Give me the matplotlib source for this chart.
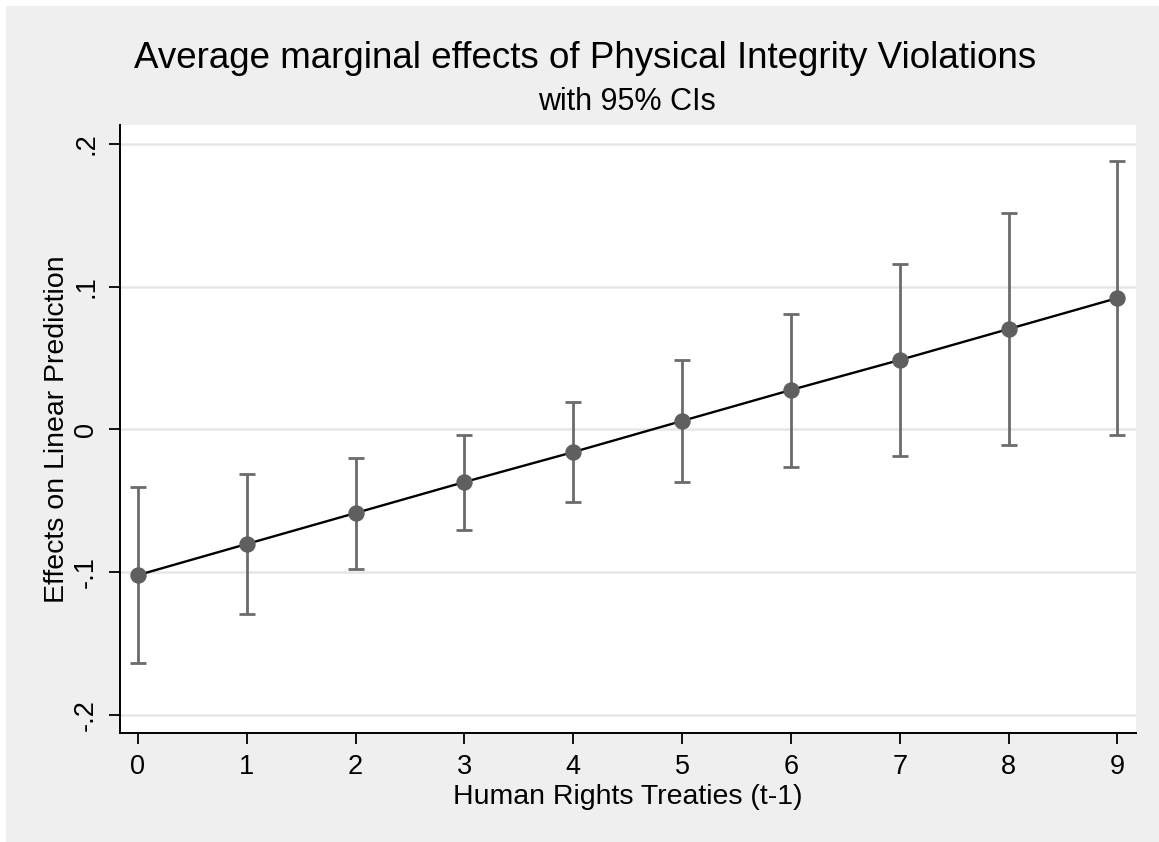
import numpy as np
import matplotlib
matplotlib.use("Agg")
import matplotlib.pyplot as plt

# values
treaties = [0, 1, 2, 3, 4, 5, 6, 7, 8, 9]
margins = [-0.102, -0.0802, -0.0585, -0.0368, -0.0158, 0.0060, 0.0277, 0.0487, 0.0704, 0.0921]
ci_low = [-0.1636, -0.1290, -0.0977, -0.0704, -0.0508, -0.0368, -0.0263, -0.0186, -0.0109, -0.0039]
ci_high = [-0.0403, -0.0312, -0.0200, -0.0039, 0.0193, 0.0487, 0.0809, 0.1159, 0.1516, 0.1880]
yticks = [-0.2, -0.1, 0.0, 0.1, 0.2]
ytick_labels = ["-.2", "-.1", "0", ".1", ".2"]

plt.rcParams['font.family'] = ['Liberation Sans', 'DejaVu Sans']

W, H = 1159, 842
fig = plt.figure(figsize=(W / 100, H / 100), dpi=100, facecolor='white')
# light gray outer region, thin white margin top and left
fig.patches.append(plt.Rectangle((6 / W, 0), 1, 1 - 6 / H,
                                 transform=fig.transFigure, facecolor='#efefef',
                                 edgecolor='none', zorder=-10))

ax = fig.add_axes([120 / W, 1 - 733 / H, (1136 - 120) / W, (733 - 125) / H])
ax.set_facecolor('white')

m = np.array(margins)
err = [m - np.array(ci_low), np.array(ci_high) - m]
ax.errorbar(treaties, margins, yerr=err, fmt='none', ecolor='#6b6b6b',
            elinewidth=2.0, capsize=5.5, capthick=2.0, zorder=3)
ax.plot(treaties, margins, color='black', lw=1.7, zorder=4)
ax.plot(treaties, margins, 'o', color='#5f5f5f', markersize=10.8, zorder=5)

ax.set_xlim(-0.165, 9.17)
ax.set_ylim(-0.2126, 0.2133)
ax.set_xticks(treaties)
ax.set_yticks(yticks)
ax.set_yticklabels(ytick_labels, rotation=90, va='center')
ax.yaxis.grid(True, color='#e6e6e6', lw=1.8)
ax.set_axisbelow(True)

for s in ['top', 'right']:
    ax.spines[s].set_visible(False)
for s in ['left', 'bottom']:
    ax.spines[s].set_color('black')
    ax.spines[s].set_linewidth(1.4)
ax.tick_params(axis='both', labelsize=19.5, length=8, width=1.3, color='black')
ax.tick_params(axis='y', pad=7)
ax.tick_params(axis='x', pad=7)

ax.set_xlabel("Human Rights Treaties (t-1)", fontsize=20.5, labelpad=3)
ax.set_ylabel("Effects on Linear Prediction", fontsize=20.5, labelpad=2.5)

fig.text(585 / W, 1 - 58 / H, "Average marginal effects of Physical Integrity Violations",
         ha='center', va='center', fontsize=26.5)
fig.text(627 / W, 1 - 102 / H, "with 95% CIs", ha='center', va='center', fontsize=22)

fig.savefig("out.png", dpi=100, facecolor=fig.get_facecolor())
